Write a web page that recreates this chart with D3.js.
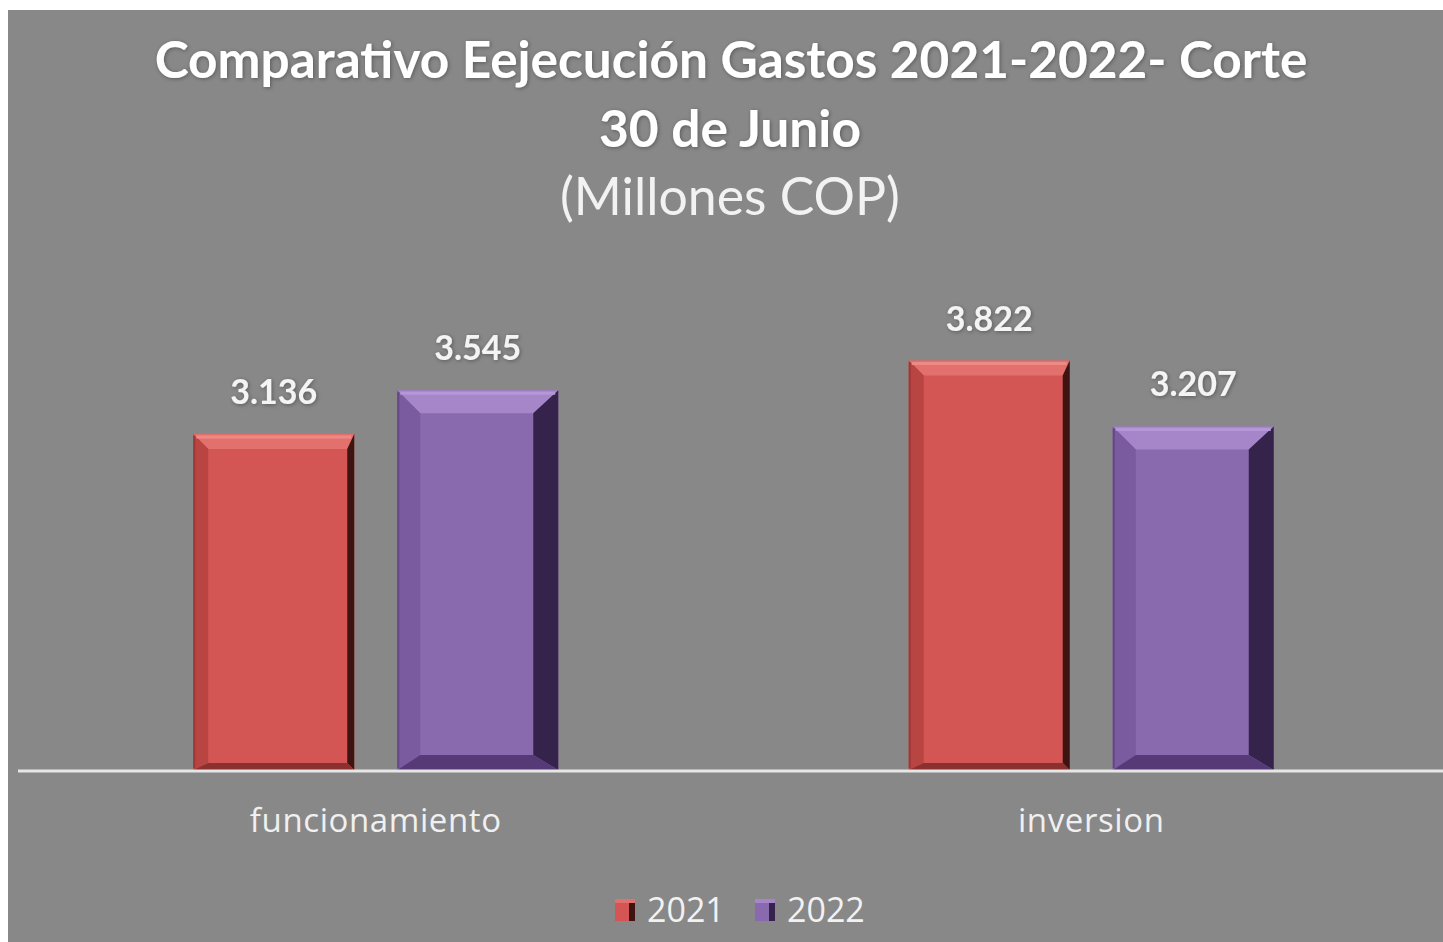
<!DOCTYPE html>
<html>
<head>
<meta charset="utf-8">
<script src="https://cdn.jsdelivr.net/npm/d3@7"></script>
<style>
  html, body { margin: 0; padding: 0; background: #ffffff; }
  svg { display: block; }
</style>
</head>
<body>
<script>
// ---- data ----
const categories = ["funcionamiento", "inversion"];
const seriesNames = ["2021", "2022"];
const values2021 = [3136, 3822];
const values2022 = [3545, 3207];
const titleLines = ["Comparativo  Eejecución  Gastos 2021-2022- Corte", "30 de Junio", "(Millones COP)"];

// ---- styles ----
const W = 1443, H = 942;
const bg = "#888888";
const seriesStyle = {
  "2021": { face: "#d35654", top: "#e2716e", hi: "#ee8a86", left: "#b84542", right: "#3e1412", bottom: "#8a302e", bt: 15, bl: 15, br: 7, bb: 7 },
  "2022": { face: "#8a6aae", top: "#a686c9", hi: "#b596d6", left: "#7a5b9f", right: "#35234c", bottom: "#563a78", bt: 23, bl: 23, br: 25, bb: 15 }
};

const svg = d3.select("body").append("svg").attr("width", W).attr("height", H);

// background
svg.append("rect").attr("x", 0).attr("y", 0).attr("width", W).attr("height", H).attr("fill", "#ffffff");
svg.append("rect").attr("x", 8).attr("y", 10).attr("width", W - 8).attr("height", H - 10).attr("fill", bg);

const defs = svg.append("defs");
const glow = defs.append("filter").attr("id", "glow").attr("x", "-10%").attr("y", "-30%").attr("width", "120%").attr("height", "160%");
glow.append("feGaussianBlur").attr("in", "SourceAlpha").attr("stdDeviation", 2).attr("result", "b");
glow.append("feOffset").attr("in", "b").attr("dx", 1).attr("dy", 1).attr("result", "o");
glow.append("feComponentTransfer").attr("in", "o").attr("result", "s")
  .append("feFuncA").attr("type", "linear").attr("slope", 0.35);
const gm = glow.append("feMerge");
gm.append("feMergeNode").attr("in", "s");
gm.append("feMergeNode").attr("in", "SourceGraphic");

// scales
const x0 = d3.scaleBand().domain(categories).range([18, 1449]).paddingInner(0).paddingOuter(0);
const x1 = d3.scaleBand().domain(seriesNames).range([0, x0.bandwidth()]).paddingInner(0.2108).paddingOuter(0.859);
const y = d3.scaleLinear().domain([0, 4500]).range([770, 288]);

const fmt = d3.formatLocale({ decimal: ",", thousands: ".", grouping: [3], currency: ["$", ""] }).format(",d");

const rows = [];
categories.forEach((c, i) => {
  rows.push({ cat: c, s: "2021", v: values2021[i] });
  rows.push({ cat: c, s: "2022", v: values2022[i] });
});

// title
const title = svg.append("g").attr("fill", "#ffffff").attr("text-anchor", "middle").attr("font-family", "Lato, 'Open Sans', sans-serif");
const t1 = title.append("text").attr("x", 731).attr("y", 78).attr("font-size", 47).attr("font-weight", 700).attr("filter", "url(#glow)").text(titleLines[0]);
const t2 = title.append("text").attr("x", 730).attr("y", 147).attr("font-size", 47).attr("font-weight", 700).attr("filter", "url(#glow)").text(titleLines[1]);
const t3 = title.append("text").attr("x", 730).attr("y", 215).attr("font-size", 46).attr("font-weight", 400).attr("fill", "#f2f2f2").text(titleLines[2]);
function fitWidth(sel, target) {
  const w = sel.node().getComputedTextLength();
  const fs = +sel.attr("font-size");
  sel.attr("font-size", fs * target / w);
}
fitWidth(t1, 1153);
fitWidth(t2, 262);
fitWidth(t3, 340);

// bars
const bars = svg.append("g").selectAll("g.bar").data(rows).join("g").attr("class", "bar");
bars.each(function(d) {
  const g = d3.select(this);
  const st = seriesStyle[d.s];
  const xa = x0(d.cat) + x1(d.s), xb = xa + x1.bandwidth();
  const ya = y(d.v), yb = y(0);
  g.append("rect").attr("x", xa).attr("y", ya).attr("width", xb - xa).attr("height", yb - ya).attr("fill", st.face);
  const ix0 = xa + st.bl, ix1 = xb - st.br, iy0 = ya + st.bt, iy1 = yb - st.bb;
  const poly = (pts, fill) => g.append("polygon").attr("points", pts.map(p => p.join(",")).join(" ")).attr("fill", fill);
  poly([[xa, ya], [xb, ya], [ix1, iy0], [ix0, iy0]], st.top);
  poly([[xa, ya], [ix0, iy0], [ix0, iy1], [xa, yb]], st.left);
  poly([[xb, ya], [xb, yb], [ix1, iy1], [ix1, iy0]], st.right);
  poly([[xa, yb], [ix0, iy1], [ix1, iy1], [xb, yb]], st.bottom);
  g.append("line").attr("x1", xa + 3).attr("x2", xb - 3).attr("y1", ya + 3).attr("y2", ya + 3).attr("stroke", st.hi).attr("stroke-width", 3);
  g.append("line").attr("x1", xa + 1).attr("x2", xa + 1).attr("y1", ya + 2).attr("y2", yb - 2).attr("stroke", st.bottom).attr("stroke-width", 2).attr("opacity", 0.6);
});

// value labels
svg.append("g").selectAll("text").data(rows).join("text")
  .attr("x", d => x0(d.cat) + x1(d.s) + x1.bandwidth() / 2)
  .attr("y", d => y(d.v) - 30)
  .attr("text-anchor", "middle")
  .attr("font-family", "Lato, 'Open Sans', sans-serif")
  .attr("font-weight", 700)
  .attr("font-size", 34)
  .attr("fill", "#f4f4f4")
  .attr("filter", "url(#glow)")
  .text(d => fmt(d.v));

// axis
const xAxis = d3.axisBottom(x0).tickSize(0).tickPadding(0);
const ax = svg.append("g").attr("transform", `translate(0,${y(0) + 1})`).call(xAxis);
ax.select(".domain").attr("stroke", "#e6e6e6").attr("stroke-width", 3).attr("d", `M18,0H${W}`);
ax.selectAll(".tick text")
  .attr("y", 61)
  .attr("dy", 0)
  .attr("font-family", "'Open Sans', Lato, sans-serif")
  .attr("font-size", 33)
  .attr("letter-spacing", 0.6)
  .attr("fill", "#f0f0f0");

// legend
const legend = svg.append("g").attr("font-family", "'Open Sans', Lato, sans-serif").attr("font-size", 34).attr("fill", "#f2f2f2");
const legendX = [615, 755];
seriesNames.forEach((s, i) => {
  const st = seriesStyle[s];
  const lx = legendX[i];
  legend.append("rect").attr("x", lx).attr("y", 899).attr("width", 20).attr("height", 22).attr("fill", st.face);
  legend.append("rect").attr("x", lx + 14).attr("y", 899).attr("width", 6).attr("height", 22).attr("fill", st.right);
  legend.append("rect").attr("x", lx).attr("y", 899).attr("width", 20).attr("height", 4).attr("fill", st.top);
  legend.append("text").attr("x", lx + 32).attr("y", 922).text(s);
});
</script>
</body>
</html>
